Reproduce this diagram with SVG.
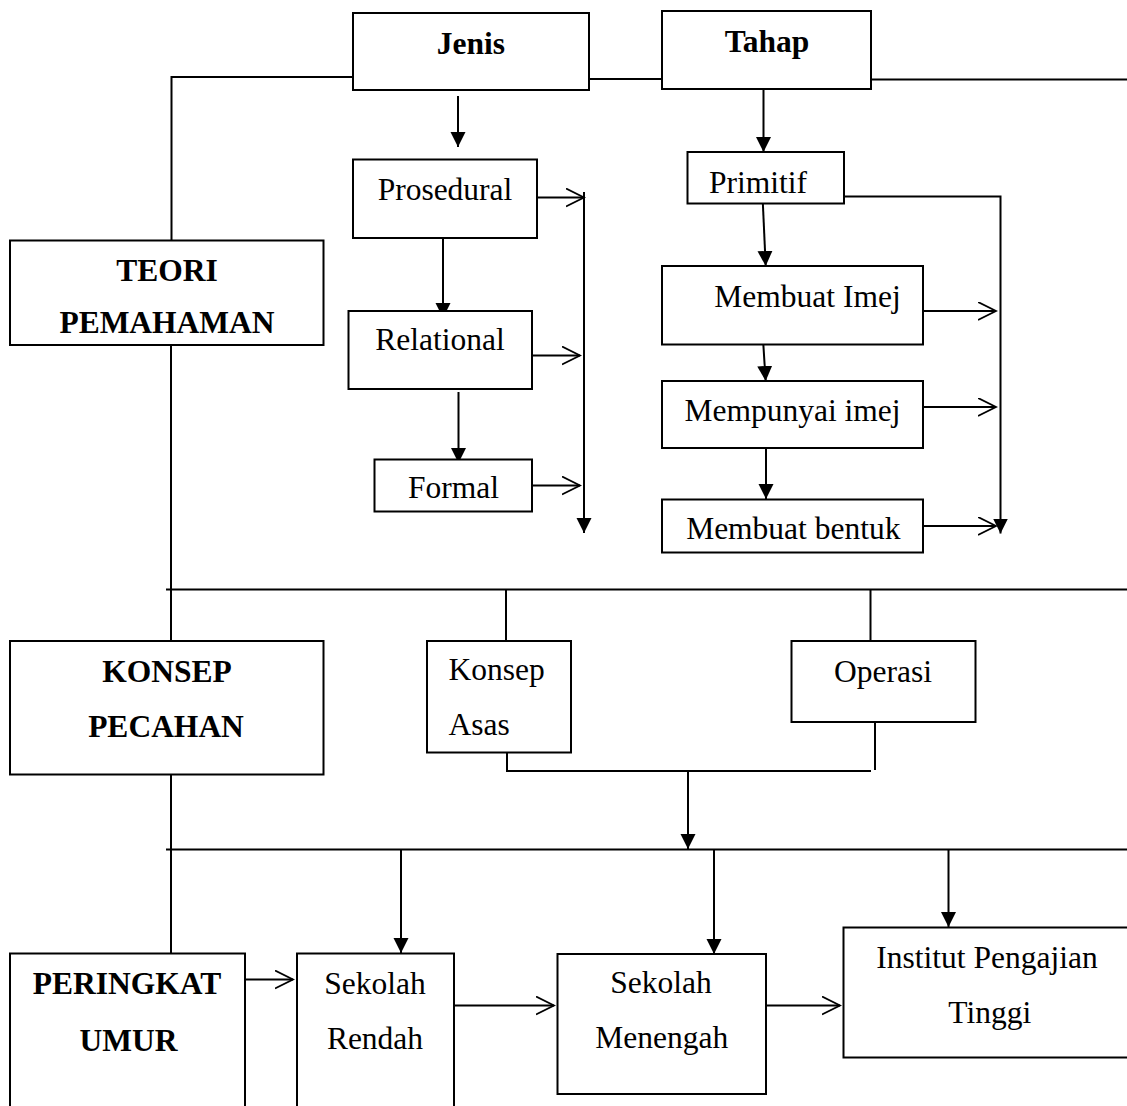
<svg xmlns="http://www.w3.org/2000/svg" width="1127" height="1106" viewBox="0 0 1127 1106">
<style>
.box{fill:#fff;stroke:#000;stroke-width:2}
.ln{fill:none;stroke:#000;stroke-width:2}
.t{font-family:"Liberation Serif","Times New Roman",serif;font-size:31.5px;fill:#000}
.b{font-weight:bold}
.c{text-anchor:middle}
</style>
<defs>
<marker id="fa" markerUnits="userSpaceOnUse" markerWidth="16" markerHeight="16" refX="15" refY="7.5" orient="auto"><path d="M0,0 L15,7.5 L0,15 z" fill="#000"/></marker>
<marker id="oa" markerUnits="userSpaceOnUse" markerWidth="20" markerHeight="20" refX="18" refY="9.5" orient="auto"><path d="M0,0.5 L18,9.5 L0,18.5" fill="none" stroke="#000" stroke-width="1.8"/></marker>
</defs>
<rect width="1127" height="1106" fill="#fff"/>
<g id="connectors">
<path class="ln" d="M353,77 H171.5 V240"/>
<path class="ln" d="M589,79 H662"/>
<path class="ln" d="M871,79.5 H1127"/>
<path class="ln" d="M458,96 V147" marker-end="url(#fa)"/>
<path class="ln" d="M763.5,80 V152" marker-end="url(#fa)"/>
<path class="ln" d="M443,224 V318" marker-end="url(#fa)"/>
<path class="ln" d="M458.5,392 V463" marker-end="url(#fa)"/>
<path class="ln" d="M537,197.5 H584" marker-end="url(#oa)"/>
<path class="ln" d="M532,355.5 H580" marker-end="url(#oa)"/>
<path class="ln" d="M532,485.5 H580" marker-end="url(#oa)"/>
<path class="ln" d="M584,192 V533" marker-end="url(#fa)"/>
<path class="ln" d="M844,196.5 H1000.5 V533.5" marker-end="url(#fa)"/>
<path class="ln" d="M762.7,200 L765.7,266" marker-end="url(#fa)"/>
<path class="ln" d="M763.3,344 L765.7,381" marker-end="url(#fa)"/>
<path class="ln" d="M766,448 V499" marker-end="url(#fa)"/>
<path class="ln" d="M923,311 H996" marker-end="url(#oa)"/>
<path class="ln" d="M923,407 H996" marker-end="url(#oa)"/>
<path class="ln" d="M923,526 H996" marker-end="url(#oa)"/>
<path class="ln" d="M171,345 V641"/>
<path class="ln" d="M166,589.5 H1127"/>
<path class="ln" d="M506,589.5 V641"/>
<path class="ln" d="M870.5,589.5 V641"/>
<path class="ln" d="M507,752 V771 H871"/>
<path class="ln" d="M875,722 V770"/>
<path class="ln" d="M688,771 V849" marker-end="url(#fa)"/>
<path class="ln" d="M171,774 V953"/>
<path class="ln" d="M166,849.5 H1127"/>
<path class="ln" d="M401,850 V953" marker-end="url(#fa)"/>
<path class="ln" d="M714,850 V954" marker-end="url(#fa)"/>
<path class="ln" d="M948.5,850 V927" marker-end="url(#fa)"/>
<path class="ln" d="M245,979.5 H293" marker-end="url(#oa)"/>
<path class="ln" d="M454,1005.5 H554" marker-end="url(#oa)"/>
<path class="ln" d="M766,1005.5 H840" marker-end="url(#oa)"/>
</g>
<g id="jenis"><rect class="box" x="353" y="13" width="236" height="77"/><text class="t b c" x="471" y="54">Jenis</text></g>
<g id="tahap"><rect class="box" x="662" y="11" width="209" height="78"/><text class="t b c" x="767" y="52">Tahap</text></g>
<g id="prosedural"><rect class="box" x="353" y="159.5" width="184" height="78.5"/><text class="t c" x="445" y="200">Prosedural</text></g>
<g id="relational"><rect class="box" x="348.5" y="311" width="183.5" height="78"/><text class="t c" x="440" y="350">Relational</text></g>
<g id="formal"><rect class="box" x="374.5" y="459.5" width="157.5" height="52"/><text class="t c" x="453.5" y="498.3">Formal</text></g>
<g id="primitif"><rect class="box" x="687.5" y="152" width="156.5" height="51.5"/><text class="t" x="709" y="192.7">Primitif</text></g>
<g id="membuat-imej"><rect class="box" x="662" y="266" width="261" height="78.5"/><text class="t c" x="807.5" y="306.7">Membuat Imej</text></g>
<g id="mempunyai-imej"><rect class="box" x="662" y="381" width="261" height="67"/><text class="t c" x="792.5" y="420.7">Mempunyai imej</text></g>
<g id="membuat-bentuk"><rect class="box" x="662" y="499.5" width="261" height="53"/><text class="t c" x="793.3" y="538.7">Membuat bentuk</text></g>
<g id="teori"><rect class="box" x="10" y="240.5" width="313.5" height="104.5"/><text class="t b c" x="167" y="280.7">TEORI</text><text class="t b c" x="167" y="333.3">PEMAHAMAN</text></g>
<g id="konsep-pecahan"><rect class="box" x="10" y="641" width="313.5" height="133.5"/><text class="t b c" x="167" y="681.7">KONSEP</text><text class="t b c" x="166" y="737.3">PECAHAN</text></g>
<g id="konsep-asas"><rect class="box" x="427" y="641" width="144" height="111.5"/><text class="t" x="448.5" y="680">Konsep</text><text class="t" x="448.5" y="735">Asas</text></g>
<g id="operasi"><rect class="box" x="791.5" y="641" width="184" height="81"/><text class="t c" x="883" y="681.7">Operasi</text></g>
<g id="peringkat-umur"><rect class="box" x="10" y="953.5" width="235" height="170"/><text class="t b c" x="127" y="994">PERINGKAT</text><text class="t b c" x="128.6" y="1050.7">UMUR</text></g>
<g id="sekolah-rendah"><rect class="box" x="297" y="953.5" width="157" height="170"/><text class="t c" x="375" y="994">Sekolah</text><text class="t c" x="375" y="1049.3">Rendah</text></g>
<g id="sekolah-menengah"><rect class="box" x="557.5" y="954" width="208.5" height="140"/><text class="t c" x="661" y="993.3">Sekolah</text><text class="t c" x="661.7" y="1048.3">Menengah</text></g>
<g id="institut"><rect class="box" x="843.5" y="927.5" width="300" height="130"/><text class="t c" x="987" y="968.3">Institut Pengajian</text><text class="t c" x="989.7" y="1022.7">Tinggi</text></g>
</svg>
